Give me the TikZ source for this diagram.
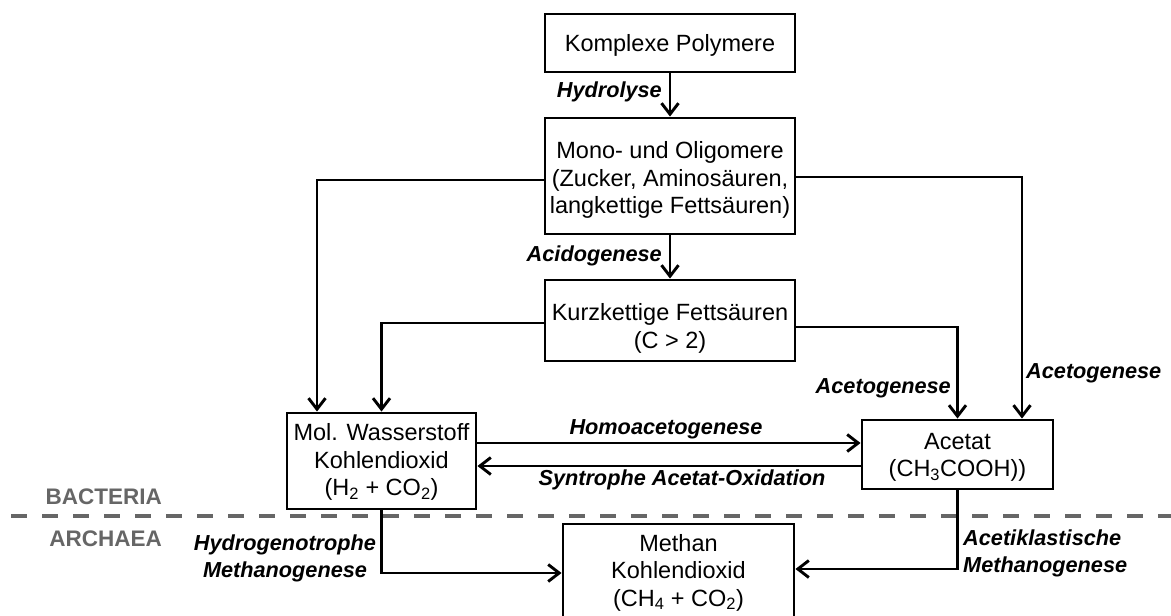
\documentclass[tikz,border=0pt]{standalone}
\usepackage{fontspec}
\setmainfont{Liberation Sans}
\usetikzlibrary{arrows.meta}
\definecolor{grey66}{RGB}{102,102,102}
\begin{document}
\begin{tikzpicture}[x=1pt,y=-1pt,
  box/.style={draw=black,line width=2.9pt,rectangle,inner sep=0pt},
  txt/.style={font=\fontsize{23.5}{27.5}\selectfont,align=center,inner sep=0pt},
  lab/.style={font=\fontsize{21.7}{27}\selectfont\bfseries\itshape,inner sep=0pt},
  grp/.style={font=\fontsize{22.5}{27}\selectfont\bfseries,text=grey66,inner sep=0pt},
  arr/.style={line width=2.9pt,-{Straight Barb[length=11pt,width=17pt,line width=2.9pt]}},
  sep/.style={draw=grey66,line width=4.5pt,dash pattern=on 16pt off 15pt}]
\useasboundingbox (0,0) rectangle (1171,616);

% separator
\coordinate (dl) at (11,516);
\coordinate (dr) at (1171,516);
\draw[sep] (dl) -- (dr);
\node[grp,anchor=east] (bac) at (162,497) {BACTERIA};
\node[grp,anchor=east] (arc) at (162,539) {ARCHAEA};

% boxes
\node[box,minimum width=250pt,minimum height=58pt] (kp) at (670,43) {};
\node[box,minimum width=250pt,minimum height=116pt] (mono) at (670,176) {};
\node[box,minimum width=250pt,minimum height=81pt] (kurz) at (670,320.5) {};
\node[box,minimum width=189pt,minimum height=96pt] (mol) at (381.5,461) {};
\node[box,minimum width=191pt,minimum height=69pt] (acetat) at (957.5,454.5) {};
\node[box,minimum width=231pt,minimum height=98pt] (methan) at (678.5,573) {};

% box texts
\node[txt] (kpT) at (670,45) {Komplexe Polymere};
\node[txt] (monoT) at (670,180) {Mono- und Oligomere\\(Zucker, Aminosäuren,\\langkettige Fettsäuren)};
\node[txt] (kurzT) at (670,328.5) {Kurzkettige Fettsäuren\\(C > 2)};
\node[txt] (molT) at (381.5,462) {Mol. Wasserstoff\\Kohlendioxid\\(H\textsubscript{2} + CO\textsubscript{2})};
\node[txt] (acetatT) at (957.5,457.5) {Acetat\\(CH\textsubscript{3}COOH))};
\node[txt] (methanT) at (678.5,572.5) {Methan\\Kohlendioxid\\(CH\textsubscript{4} + CO\textsubscript{2})};

% connectors
\draw[arr] (kp) -- (mono);
\draw[arr] (mono) -- (kurz);
\draw[arr] ([yshift=-4pt]mono.west) -| ([xshift=-64.5pt]mol.north);
\draw[arr] ([yshift=-2.5pt]kurz.west) -| (mol.north);
\draw[arr] ([yshift=-1pt]mono.east) -| ([xshift=64.5pt]acetat.north);
\draw[arr] ([yshift=-6.5pt]kurz.east) -| (acetat.north);
\draw[arr] ([yshift=18pt]mol.east) -- ([yshift=18pt]mol.east -| acetat.west);
\draw[arr] ([yshift=-11.5pt]acetat.west) -- ([yshift=-11.5pt]acetat.west -| mol.east);
\draw[arr] (mol.south) |- (methan.west);
\draw[arr] (acetat.south) |- ([yshift=4pt]methan.east);

% labels
\node[lab,anchor=east] (hyd) at (662,92) {Hydrolyse};
\node[lab,anchor=east] (acid) at (662,256) {Acidogenese};
\node[lab,anchor=west] (aceR) at (1026,373) {Acetogenese};
\node[lab,anchor=east] (aceL) at (951,388) {Acetogenese};
\node[lab] (homo) at (666,429) {Homoacetogenese};
\node[lab] (syn) at (682,480) {Syntrophe Acetat-Oxidation};
\node[lab,align=center] (hydro) at (285,558.5) {Hydrogenotrophe\\Methanogenese};
\node[lab,align=left,anchor=west] (acet) at (963,553) {Acetiklastische\\Methanogenese};
\end{tikzpicture}
\end{document}
